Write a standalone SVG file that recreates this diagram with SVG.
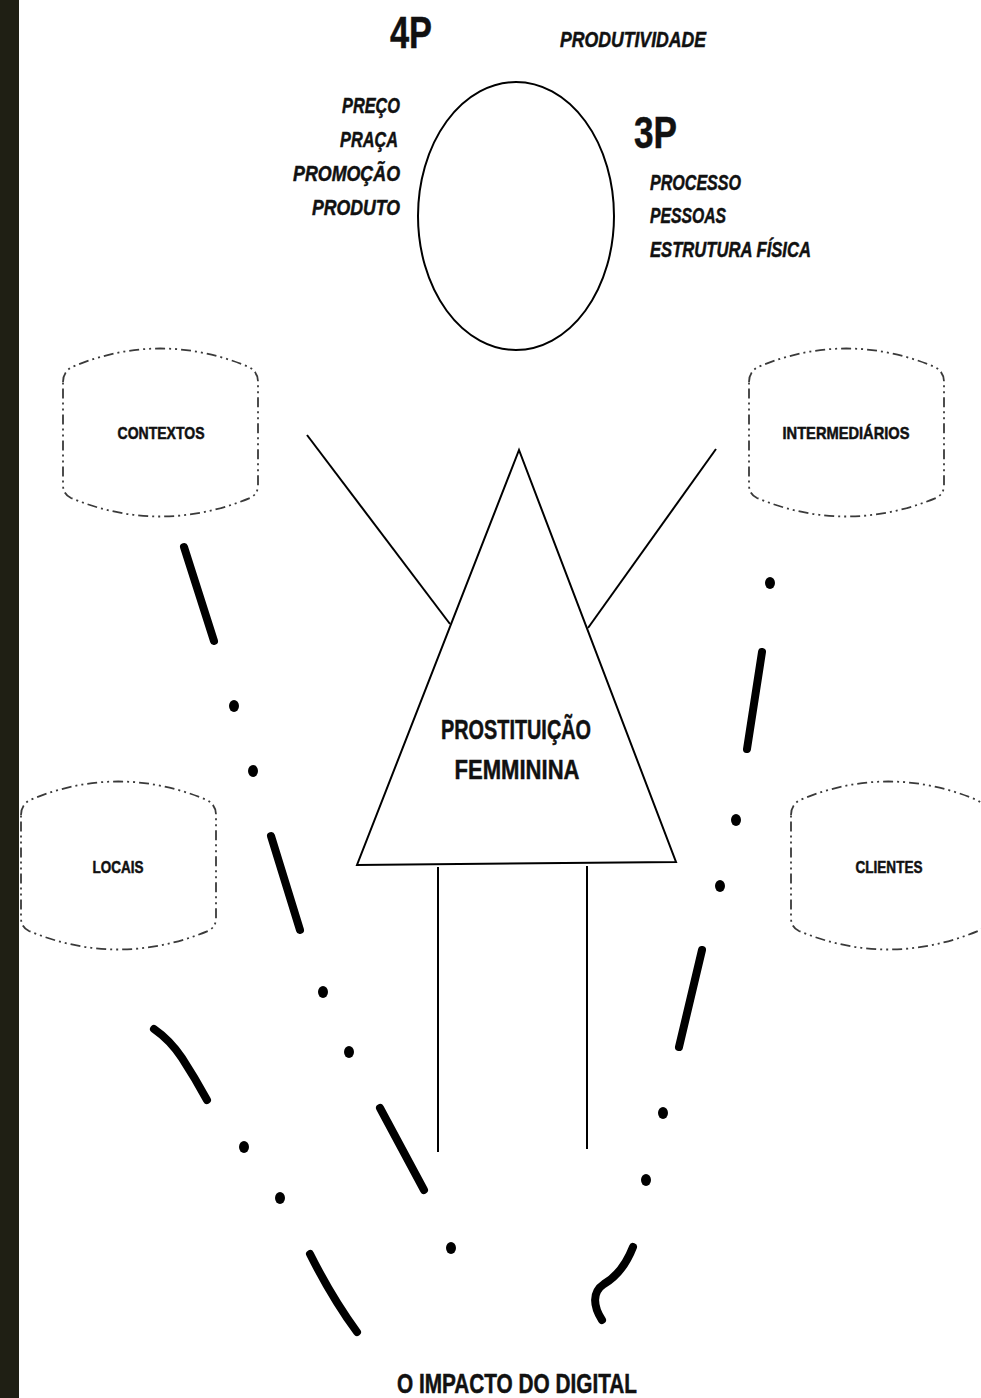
<svg xmlns="http://www.w3.org/2000/svg" width="981" height="1398" viewBox="0 0 981 1398">
<style>
.t{font-family:"Liberation Sans Narrow","Liberation Sans",Arial,sans-serif;font-weight:bold;fill:#111;stroke:#111;stroke-width:0.5}
.i{font-style:italic}
.cyl{fill:none;stroke:#3a3a3a;stroke-width:1.8;stroke-dasharray:10 4 2 4 2 4}
.ln{fill:none;stroke:#000;stroke-width:2}
.thick{fill:none;stroke:#000;stroke-width:8;stroke-linecap:round}
.dot{fill:#000}
</style>
<rect x="0" y="0" width="981" height="1398" fill="#fff"/>
<rect x="0" y="0" width="19" height="1398" fill="#1f1f14"/>

<g id="marketing">
<ellipse cx="516" cy="216" rx="98" ry="134" class="ln"/>
<text class="t" x="390" y="48" font-size="44" textLength="42" lengthAdjust="spacingAndGlyphs">4P</text>
<text class="t i" x="560" y="47" font-size="22" textLength="146" lengthAdjust="spacingAndGlyphs">PRODUTIVIDADE</text>
<text class="t i" x="342" y="113" font-size="22" textLength="58" lengthAdjust="spacingAndGlyphs">PREÇO</text>
<text class="t i" x="340" y="147" font-size="22" textLength="58" lengthAdjust="spacingAndGlyphs">PRAÇA</text>
<text class="t i" x="293" y="181" font-size="22" textLength="107" lengthAdjust="spacingAndGlyphs">PROMOÇÃO</text>
<text class="t i" x="312" y="215" font-size="22" textLength="88" lengthAdjust="spacingAndGlyphs">PRODUTO</text>
<text class="t" x="634" y="148" font-size="44" textLength="43" lengthAdjust="spacingAndGlyphs">3P</text>
<text class="t i" x="650" y="190" font-size="22" textLength="91" lengthAdjust="spacingAndGlyphs">PROCESSO</text>
<text class="t i" x="650" y="223" font-size="22" textLength="76" lengthAdjust="spacingAndGlyphs">PESSOAS</text>
<text class="t i" x="650" y="257" font-size="22" textLength="161" lengthAdjust="spacingAndGlyphs">ESTRUTURA FÍSICA</text>
</g>

<g id="contextos">
<path class="cyl" d="M63,382 Q63,372 72,367 Q160,330 249,367 Q258,372 258,382 L258,485 Q258,494 250,498 Q160,535 71,498 Q63,494 63,485 Z"/>
<text class="t" x="161" y="439" font-size="17" text-anchor="middle" textLength="87" lengthAdjust="spacingAndGlyphs">CONTEXTOS</text>
</g>

<g id="intermediarios">
<path class="cyl" d="M749,382 Q749,372 758,367 Q846,330 935,367 Q944,372 944,382 L944,485 Q944,494 936,498 Q846,535 757,498 Q749,494 749,485 Z"/>
<text class="t" x="846" y="439" font-size="17" text-anchor="middle" textLength="127" lengthAdjust="spacingAndGlyphs">INTERMEDIÁRIOS</text>
</g>

<g id="locais">
<path class="cyl" d="M21,815 Q21,805 30,800 Q118,763 207,800 Q216,805 216,815 L216,918 Q216,927 208,931 Q118,968 29,931 Q21,927 21,918 Z"/>
<text class="t" x="118" y="873" font-size="17" text-anchor="middle" textLength="51" lengthAdjust="spacingAndGlyphs">LOCAIS</text>
</g>

<g id="clientes">
<path class="cyl" d="M791,815 Q791,805 800,800 Q888,763 977,800 Q986,805 986,815 L986,918 Q986,927 978,931 Q888,968 799,931 Q791,927 791,918 Z"/>
<text class="t" x="889" y="873" font-size="17" text-anchor="middle" textLength="67" lengthAdjust="spacingAndGlyphs">CLIENTES</text>
</g>

<g id="prostituicao">
<polygon class="ln" points="519,450 357,865 676,862"/>
<text class="t" x="516" y="739" font-size="28" text-anchor="middle" textLength="150" lengthAdjust="spacingAndGlyphs">PROSTITUIÇÃO</text>
<text class="t" x="517" y="779" font-size="28" text-anchor="middle" textLength="125" lengthAdjust="spacingAndGlyphs">FEMMININA</text>
</g>

<g id="impacto">
<text class="t" x="517" y="1393" font-size="27" text-anchor="middle" textLength="240" lengthAdjust="spacingAndGlyphs">O IMPACTO DO DIGITAL</text>
</g>

<g id="connectors">
<line class="ln" x1="307" y1="435" x2="450" y2="624"/>
<line class="ln" x1="716" y1="449" x2="588" y2="628"/>
<line class="ln" x1="438" y1="867" x2="438" y2="1152"/>
<line class="ln" x1="587" y1="866" x2="587" y2="1149"/>

<line class="thick" x1="184" y1="547" x2="214" y2="641"/>
<ellipse class="dot" cx="234" cy="706" rx="5" ry="6"/>
<ellipse class="dot" cx="253" cy="771" rx="5" ry="6"/>
<line class="thick" x1="271" y1="836" x2="300" y2="930"/>
<ellipse class="dot" cx="323" cy="992" rx="5" ry="6"/>
<ellipse class="dot" cx="349" cy="1052" rx="5" ry="6"/>
<line class="thick" x1="380" y1="1108" x2="424" y2="1190"/>
<ellipse class="dot" cx="451" cy="1248" rx="5" ry="6"/>

<path class="thick" d="M154,1029 Q170,1040 182,1058 Q195,1078 207,1100"/>
<ellipse class="dot" cx="244" cy="1147" rx="5" ry="6"/>
<ellipse class="dot" cx="280" cy="1198" rx="5" ry="6"/>
<path class="thick" d="M310,1254 Q332,1298 357,1332"/>

<ellipse class="dot" cx="770" cy="583" rx="5" ry="6"/>
<line class="thick" x1="762" y1="652" x2="747" y2="749"/>
<ellipse class="dot" cx="736" cy="820" rx="5" ry="6"/>
<ellipse class="dot" cx="720" cy="886" rx="5" ry="6"/>
<line class="thick" x1="702" y1="950" x2="679" y2="1047"/>
<ellipse class="dot" cx="663" cy="1113" rx="5" ry="6"/>
<ellipse class="dot" cx="646" cy="1180" rx="5" ry="6"/>
<path class="thick" d="M633,1247 C626,1265 616,1277 604,1284 C592,1292 593,1306 602,1320"/>
</g>
</svg>
